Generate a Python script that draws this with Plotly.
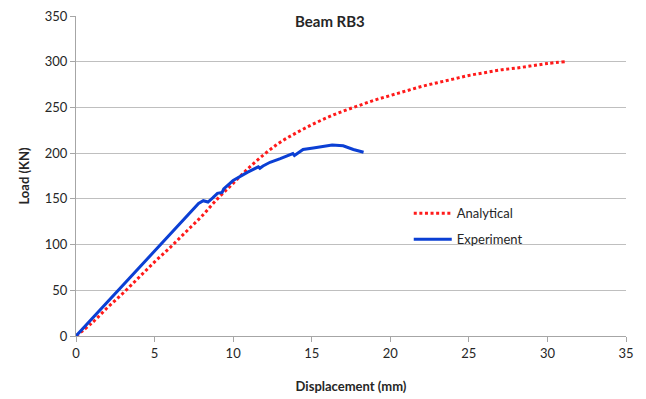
import plotly.graph_objects as go

# Analytical curve
ana_x = [0, 1, 2, 3, 4, 5, 6, 7, 8, 9, 10, 11, 12, 13, 14, 15, 16, 17, 18, 19,
         20, 21, 22, 23, 24, 25, 26, 27, 28, 29, 30, 31.1]
ana_y = [0, 14, 31, 47, 64, 81, 97, 114, 131, 150, 167, 184, 199, 212, 222, 231,
         239, 246, 252, 258, 263, 268, 273, 277, 281, 285, 288, 291, 293, 295.5, 298, 300]

# Experiment curve
exp_x = [0, 1, 2, 3, 4, 5, 6, 7, 7.8, 8.1, 8.4, 8.7, 9.0, 9.3, 9.4, 10, 10.9, 11.6,
         11.7, 11.9, 12.35, 13, 13.8, 13.9, 14.45, 15.1, 15.7, 16.3, 15.6, 16.3, 17.0,
         17.65, 18.3]
exp_y = [0, 18.5, 37, 55.5, 74, 92, 111, 129, 145, 148, 146.5, 151, 156, 157, 161,
         170, 179, 185, 183.5, 186, 190, 194, 199.5, 197.5, 204, 205.7, 207.5, 208.5,
         206.5, 209, 208, 204, 201]

x_ticks = [0, 5, 10, 15, 20, 25, 30, 35]
y_ticks = [0, 50, 100, 150, 200, 250, 300, 350]

FONT = "Lato, 'Open Sans', sans-serif"

fig = go.Figure()
fig.add_trace(go.Scatter(
    x=ana_x, y=ana_y, mode="lines", name="Analytical",
    line=dict(color="#ff1a1a", width=3, dash="3px,2.6px", shape="spline"),
    legendgroup="a",
))
fig.add_trace(go.Scatter(
    x=exp_x, y=exp_y, mode="lines", name="Experiment",
    line=dict(color="#0b3fd4", width=3),
    legendgroup="b",
))

axis_common = dict(
    showline=True, linecolor="#a6a6a6", linewidth=1,
    ticks="outside", ticklen=5, tickcolor="#a6a6a6",
    gridcolor="#bfbfbf", gridwidth=1, zeroline=False, automargin=False,
    tickfont=dict(family=FONT, size=13, color="#262626"),
)

fig.update_layout(
    width=646, height=399,
    margin=dict(l=76, r=20, t=16, b=63),
    paper_bgcolor="white", plot_bgcolor="white",
    font=dict(family=FONT, color="#262626"),
    xaxis=dict(range=[0, 35], tickvals=x_ticks, showgrid=False,
               title=dict(text="<b>Displacement (mm)</b>", font=dict(family=FONT, size=13, color="#262626"), standoff=22),
               **axis_common),
    yaxis=dict(range=[0, 350], tickvals=y_ticks, showgrid=True,
               title=dict(text="<b>Load (KN)</b>", font=dict(family=FONT, size=13, color="#262626"), standoff=12),
               **axis_common),
    showlegend=True,
    legend=dict(x=0.605, y=0.43, xanchor="left", yanchor="top",
                bgcolor="rgba(0,0,0,0)", font=dict(family=FONT, size=13, color="#262626"),
                tracegroupgap=6, traceorder="grouped", itemwidth=38),
    annotations=[dict(text="<b>Beam RB3</b>", xref="paper", yref="paper",
                      x=0.462, y=0.985, xanchor="center", yanchor="middle",
                      showarrow=False, font=dict(family=FONT, size=15, color="#262626"))],
)

fig.write_html("out.html")
